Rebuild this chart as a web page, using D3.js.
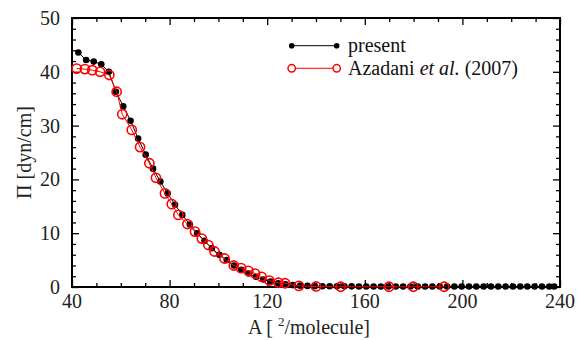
<!DOCTYPE html>
<html>
<head>
<meta charset="utf-8">
<script src="https://cdn.jsdelivr.net/npm/d3@7"></script>
</head>
<body style="margin:0">
<svg id="chart" width="577" height="340" font-family="Liberation Serif" style="font-family:'Liberation Serif'"></svg>
<script>
// Surface pressure isotherm: present simulation vs. Azadani et al. (2007)
const presentArea = [42.6,45.8,48.9,52.0,55.1,58.0,61.0,64.0,67.1,70.2,73.2,76.2,79.2,82.2,85.2,88.3,91.3,94.3,97.3,100.4,103.4,106.4,109.4,112.4,115.4,118.4,121.4,124.5,127.5,130.5,133.5,136.5,139.5,142.6,145.6,148.6,151.6,154.6,157.6,160.6,163.6,166.6,169.7,172.7,175.7,178.7,181.7,184.7,187.7,190.7,193.7,196.7,199.7,202.7,205.7,208.7,211.7,214.7,217.7,220.7,223.7,226.6,229.6,232.6,235.6,237.6];
const presentPi = [43.6,42.2,41.9,41.4,40.0,36.3,33.6,30.9,27.6,24.6,22.0,19.6,17.4,15.3,13.4,11.6,10.0,8.6,7.2,6.0,5.0,4.0,3.2,2.5,1.9,1.4,1.0,0.7,0.5,0.35,0.25,0.2,0.15,0.15,0.15,0.12,0.12,0.12,0.1,0.1,0.1,0.1,0.1,0.1,0.1,0.1,0.1,0.1,0.1,0.1,0.1,0.1,0.1,0.1,0.1,0.1,0.1,0.1,0.1,0.1,0.1,0.1,0.1,0.1,0.1,0.1];

const azadaniArea = [41.9,45.3,48.3,51.5,55.3,58.3,60.6,64.5,67.9,71.7,74.4,78.1,80.9,83.6,87.3,90.4,93.2,95.9,98.4,102.5,106.3,109.3,112.3,115.0,117.7,120.9,124.6,127.3,133.0,140.0,150.1,169.9,179.9,192.5];
const azadaniPi = [40.6,40.5,40.3,40.0,39.4,36.3,32.1,29.2,26.0,23.0,20.3,17.4,15.4,13.4,11.7,10.3,9.0,7.8,6.6,5.3,4.0,3.5,3.0,2.5,1.9,1.2,0.8,0.7,0.2,0.1,0.05,0.05,0.05,0.05];

const xMajorTicks = [40,80,120,160,200,240];
const xMinorTicks = [50,60,70,90,100,110,130,140,150,170,180,190,210,220,230];
const yMajorTicks = [0,10,20,30,40,50];
const yMinorTicks = [2,4,6,8,12,14,16,18,22,24,26,28,32,34,36,38,42,44,46,48];

const legendLabels = ["present", "Azadani", "et al.", "(2007)"];

const FONT = "'Liberation Serif'";

const svg = d3.select("#chart");
const margin = { left: 72, right: 17, top: 18, bottom: 53 };
const W = 577, H = 340;
const iw = W - margin.left - margin.right;
const ih = H - margin.top - margin.bottom;

const x = d3.scaleLinear().domain([40, 240]).range([0, iw]);
const y = d3.scaleLinear().domain([0, 50]).range([ih, 0]);

const present = presentArea.map((a, i) => ({ a, p: presentPi[i] }));
const azadani = azadaniArea.map((a, i) => ({ a, p: azadaniPi[i] }));

// tick labels
const labels = [];
xMajorTicks.forEach(v => labels.push({ x: margin.left + x(v), y: margin.top + ih + 21, t: String(v), anchor: "middle" }));
yMajorTicks.forEach(v => labels.push({ x: margin.left - 12, y: margin.top + y(v) + 7, t: String(v), anchor: "end" }));

svg.selectAll("text.tick-label").data(labels).join("text")
  .attr("class", "tick-label")
  .attr("x", d => d.x).attr("y", d => d.y)
  .attr("text-anchor", d => d.anchor)
  .attr("font-size", 20)
  .attr("fill", "#222")
  .style("font-family", FONT)
  .text(d => d.t);

const g = svg.append("g").attr("transform", `translate(${margin.left},${margin.top})`);

// inward ticks on all four sides
function tickAxis(axisFn, scale, values, size, transform) {
  const ax = axisFn(scale).tickValues(values).tickSize(-size).tickFormat("");
  const sel = g.append("g").attr("transform", transform).call(ax);
  sel.select(".domain").remove();
  sel.selectAll(".tick text").remove();
  sel.selectAll(".tick line").attr("stroke", "#000").attr("stroke-width", 1.3);
  return sel;
}

tickAxis(d3.axisBottom, x, xMajorTicks, 7, `translate(0,${ih})`);
tickAxis(d3.axisBottom, x, xMinorTicks, 4, `translate(0,${ih})`);
tickAxis(d3.axisTop, x, xMajorTicks, 7, `translate(0,0)`);
tickAxis(d3.axisTop, x, xMinorTicks, 4, `translate(0,0)`);
tickAxis(d3.axisLeft, y, yMajorTicks, 7, `translate(0,0)`);
tickAxis(d3.axisLeft, y, yMinorTicks, 4, `translate(0,0)`);
tickAxis(d3.axisRight, y, yMajorTicks, 7, `translate(${iw},0)`);
tickAxis(d3.axisRight, y, yMinorTicks, 4, `translate(${iw},0)`);

// frame
g.append("rect").attr("x", 0).attr("y", 0).attr("width", iw).attr("height", ih)
  .attr("fill", "none").attr("stroke", "#000").attr("stroke-width", 2);

const line = d3.line().x(d => x(d.a)).y(d => y(d.p));

// present simulation
g.append("path").datum(present).attr("d", line)
  .attr("fill", "none").attr("stroke", "#000").attr("stroke-width", 1);
g.selectAll("circle.present").data(present).join("circle")
  .attr("class", "present").attr("cx", d => x(d.a)).attr("cy", d => y(d.p))
  .attr("r", 3.3).attr("fill", "#000");

// Azadani et al. (2007)
g.append("path").datum(azadani).attr("d", line)
  .attr("fill", "none").attr("stroke", "#f00").attr("stroke-width", 1);
g.selectAll("circle.azadani").data(azadani).join("circle")
  .attr("class", "azadani").attr("cx", d => x(d.a)).attr("cy", d => y(d.p))
  .attr("r", 4.6).attr("fill", "none").attr("stroke", "#f00").attr("stroke-width", 1.6);

// legend
const lg = svg.append("g");
const l1 = 45.7, l2 = 68.3, lx0 = 291.7, lx1 = 336.7;
lg.append("line").attr("x1", lx0).attr("x2", lx1).attr("y1", l1).attr("y2", l1).attr("stroke", "#000");
[lx0, lx1].forEach(cx => lg.append("circle").attr("cx", cx).attr("cy", l1).attr("r", 2.8).attr("fill", "#000"));
lg.append("text").attr("x", 348).attr("y", l1 + 6.5).attr("font-size", 20)
  .style("font-family", FONT).attr("fill", "#111").text(legendLabels[0]);

lg.append("line").attr("x1", lx0).attr("x2", lx1).attr("y1", l2).attr("y2", l2).attr("stroke", "#f00");
[lx0, lx1].forEach(cx => lg.append("circle").attr("cx", cx).attr("cy", l2).attr("r", 3.7)
  .attr("fill", "#fff").attr("stroke", "#f00").attr("stroke-width", 1.5));
const t2 = lg.append("text").attr("x", 348).attr("y", l2 + 6.5).attr("font-size", 20)
  .style("font-family", FONT).attr("fill", "#111");
t2.append("tspan").text(legendLabels[1] + " ");
t2.append("tspan").style("font-style", "italic").text(legendLabels[2]);
t2.append("tspan").text(" " + legendLabels[3]);

// axis titles
const xt = svg.append("text").attr("x", 248).attr("y", 334).attr("font-size", 20)
  .style("font-family", FONT).attr("fill", "#222");
xt.append("tspan").text("A [ ");
xt.append("tspan").attr("font-size", 13).attr("dy", -8).text("2");
xt.append("tspan").attr("dy", 8).text("/molecule]");

svg.append("text").attr("transform", `translate(31,${margin.top + ih / 2}) rotate(-90)`)
  .attr("text-anchor", "middle").attr("font-size", 20)
  .style("font-family", FONT).attr("fill", "#222")
  .text("Π [dyn/cm]");
</script>
</body>
</html>
